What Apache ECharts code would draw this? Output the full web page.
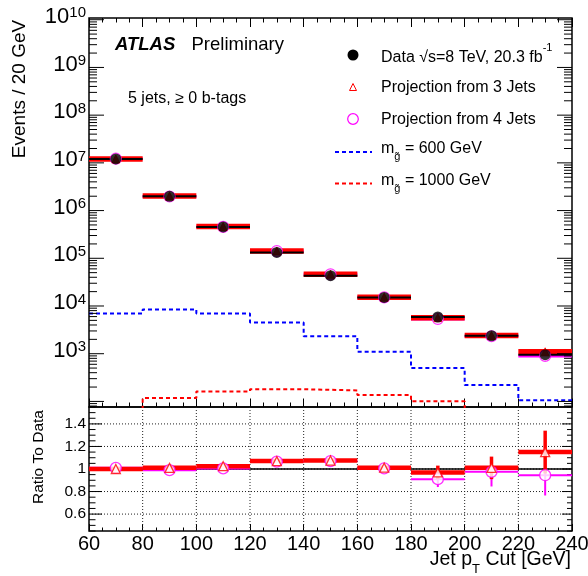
<!DOCTYPE html>
<html><head><meta charset="utf-8">
<script src="https://cdn.jsdelivr.net/npm/echarts@6/dist/echarts.min.js"></script>
<style>html,body{margin:0;padding:0;background:#fff}#c{width:588px;height:576px}</style>
</head><body><div id="c"></div>
<script>
// ---- data ----
const binEdges   = [60, 80, 100, 120, 140, 160, 180, 200, 220, 240];
const binCenters = [70, 90, 110, 130, 150, 170, 190, 210, 230];
const dataEvents = [1.21e7, 1.99e6, 4.53e5, 1.33e5, 4.31e4, 1.51e4, 5880, 2380, 953];
const ratio3Jets = [1.00, 1.01, 1.025, 1.07, 1.075, 1.012, 0.97, 1.01, 1.15];
const ratio3Err  = [0.005, 0.008, 0.01, 0.012, 0.015, 0.02, 0.06, 0.10, 0.19];
const ratio4Jets = [1.01, 0.99, 1.005, 1.065, 1.07, 1.005, 0.91, 0.975, 0.945];
const ratio4Err  = [0.005, 0.008, 0.01, 0.012, 0.015, 0.025, 0.07, 0.13, 0.18];
const gluino600  = [7000, 8490, 7000, 4530, 2330, 1100, 501, 221, 106];
const gluino1000 = [60, 118, 162, 180, 170, 136, 101, 50, 30];
const yLogLabels = [3, 4, 5, 6, 7, 8, 9, 10];
const ratioLabels = [0.6, 0.8, 1, 1.2, 1.4];
const xTickLabels = [60, 80, 100, 120, 140, 160, 180, 200, 220, 240];

const FONT = '"Liberation Sans", Arial, Helvetica, sans-serif';
const yMin = 76.4, yMax = 1.087e10;
const rMin = 0.45, rMax = 1.55;
const RED = '#ff0000', MAG = '#ff00ff', BLUE = '#0000ff';

const proj3 = dataEvents.map((d, i) => d * ratio3Jets[i]);
const proj4 = dataEvents.map((d, i) => d * ratio4Jets[i]);

function seg(x1, y1, x2, y2, w, color, dash) {
  return {type: 'line', silent: true, shape: {x1, y1, x2, y2},
    style: {stroke: color, lineWidth: w, lineDash: dash || null, legacy: false}};
}
function stepData(vals) {
  return binEdges.map((e, i) => [e, vals[Math.min(i, vals.length - 1)]]);
}
function binItems(vals, errs) {
  return binCenters.map((c, i) => [binEdges[i], binEdges[i + 1], c, vals[i], errs ? errs[i] : 0]);
}
function hbarRender(width, color) {
  return function (params, api) {
    const p1 = api.coord([api.value(0), api.value(3)]);
    const p2 = api.coord([api.value(1), api.value(3)]);
    return seg(p1[0], p1[1], p2[0], p2[1], width, color);
  };
}
function errRender(hw, vw, color) {
  return function (params, api) {
    const r = api.value(3), e = api.value(4);
    const p1 = api.coord([api.value(0), r]);
    const p2 = api.coord([api.value(1), r]);
    const c = api.value(2);
    const q1 = api.coord([c, r - e]);
    const q2 = api.coord([c, r + e]);
    return {type: 'group', children: [
      seg(q1[0], q1[1], q2[0], q2[1], vw, color),
      seg(p1[0], p1[1], p2[0], p2[1], hw, color)
    ]};
  };
}

const xCommon = {
  type: 'value', min: 60, max: 240, interval: 20,
  axisLine: {show: false}, splitLine: {show: false}, axisLabel: {show: false},
  axisTick: {show: true, inside: true, length: 8.5, lineStyle: {color: '#000', width: 1}},
  minorTick: {show: true, splitNumber: 4, length: 4.5, lineStyle: {color: '#000', width: 1}},
  minorSplitLine: {show: false}
};

const topFrame = {
  type: 'custom', xAxisIndex: 0, yAxisIndex: 0, data: [[150, 1000]], silent: true, clip: false, z: 5,
  renderItem(params, api) {
    const ch = [];
    const xl = api.coord([60, 1000])[0], xr = api.coord([240, 1000])[0];
    for (let k = 1; k <= 10; k++) for (let m = 1; m <= 9; m++) {
      const v = m * Math.pow(10, k);
      if (v < yMin || v > yMax) continue;
      const y = api.coord([60, v])[1];
      const L = m === 1 ? 15 : 8;
      ch.push(seg(xl, y, xl + L, y, 1, '#000'));
      ch.push(seg(xr, y, xr - L, y, 1, '#000'));
    }
    yLogLabels.forEach(k => {
      const y = api.coord([60, Math.pow(10, k)])[1];
      ch.push({type: 'text', x: xl - 3, y: y + 3, silent: true,
        style: {legacy: false, text: '{b|10}{s|' + k + '}', align: 'right', verticalAlign: 'middle', fill: '#000',
          rich: {
            b: {fontSize: 22, fontFamily: FONT, lineHeight: 34, verticalAlign: 'top', fill: '#000'},
            s: {fontSize: 15, fontFamily: FONT, lineHeight: 15, verticalAlign: 'top', fill: '#000'}
          }}});
    });
    return {type: 'group', children: ch};
  }
};

const ratioFrame = {
  type: 'custom', xAxisIndex: 2, yAxisIndex: 1, data: [[150, 1]], silent: true, clip: false, z: 1,
  renderItem(params, api) {
    const ch = [];
    const xl = api.coord([60, 1])[0], xr = api.coord([240, 1])[0];
    const yt = api.coord([60, rMax])[1], yb = api.coord([60, rMin])[1];
    for (let x = 80; x <= 220; x += 20) {
      const px = api.coord([x, 1])[0];
      ch.push(seg(px, yt, px, yb, 1, '#222', [1, 2]));
    }
    ratioLabels.forEach(v => {
      const py = api.coord([60, v])[1];
      ch.push(seg(xl, py, xr, py, 1, '#222', [1, 2]));
    });
    for (let i = 9; i <= 31; i++) {
      const v = i * 0.05;
      const y = api.coord([60, v])[1];
      const major = i % 4 === 0;
      ch.push(seg(xl, y, xl + (major ? 13 : 6.5), y, 1, '#000'));
      ch.push(seg(xr, y, xr - (major ? 10 : 5), y, 1, '#000'));
    }
    ratioLabels.forEach(v => {
      const y = api.coord([60, v])[1];
      ch.push({type: 'text', x: xl - 3, y: y, silent: true,
        style: {legacy: false, text: String(v), align: 'right', verticalAlign: 'middle', fill: '#000',
          fontSize: 15.5, fontFamily: FONT}});
    });
    return {type: 'group', children: ch};
  }
};

const subRich = (bs, ss) => ({
  b: {fontSize: bs, fontFamily: FONT, fill: '#000', lineHeight: 22, verticalAlign: 'top'},
  s: {fontSize: ss, fontFamily: FONT, fill: '#000', lineHeight: 10, verticalAlign: 'bottom'}
});

const option = {
  animation: false,
  backgroundColor: '#fff',
  grid: [
    {left: 89, top: 18, width: 483, height: 389, show: true, borderColor: '#000', borderWidth: 1.5, backgroundColor: 'transparent', outerBoundsMode: 'none'},
    {left: 89, top: 407, width: 483, height: 124, show: true, borderColor: '#000', borderWidth: 1.5, backgroundColor: 'transparent', outerBoundsMode: 'none'}
  ],
  xAxis: [
    Object.assign({}, xCommon, {gridIndex: 0, position: 'bottom'}),
    Object.assign({}, xCommon, {gridIndex: 0, position: 'top', axisTick: Object.assign({}, xCommon.axisTick, {length: 9})}),
    Object.assign({}, xCommon, {gridIndex: 1, position: 'bottom',
      axisTick: Object.assign({}, xCommon.axisTick, {length: 7}),
      minorTick: Object.assign({}, xCommon.minorTick, {length: 3.5}),
      axisLabel: {show: true, fontSize: 20, fontFamily: FONT, color: '#000', margin: 3,
        formatter: v => (xTickLabels.indexOf(v) >= 0 ? String(v) : '')}})
  ],
  yAxis: [
    {type: 'log', logBase: 10, gridIndex: 0, min: yMin, max: yMax,
      axisLine: {show: false}, axisTick: {show: false}, axisLabel: {show: false}, splitLine: {show: false}},
    {type: 'value', gridIndex: 1, min: rMin, max: rMax,
      axisLine: {show: false}, axisTick: {show: false}, axisLabel: {show: false}, splitLine: {show: false}}
  ],
  graphic: [
    {type: 'text', x: 115, y: 44.5, silent: true, style: {text: 'ATLAS', fill: '#000', fontSize: 18.5, fontWeight: 'bold', fontStyle: 'italic', fontFamily: FONT, align: 'left', verticalAlign: 'middle'}},
    {type: 'text', x: 191.5, y: 44.5, silent: true, style: {text: 'Preliminary', fill: '#000', fontSize: 18.5, fontFamily: FONT, align: 'left', verticalAlign: 'middle'}},
    {type: 'text', x: 128, y: 99, silent: true, style: {text: '5 jets, \u2265 0 b-tags', fill: '#000', fontSize: 16, fontFamily: FONT, align: 'left', verticalAlign: 'middle'}},
    // legend
    {type: 'circle', silent: true, shape: {cx: 353, cy: 55, r: 5.5}, style: {fill: '#000'}},
    {type: 'polygon', silent: true, shape: {points: [[349.5, 90.5], [356.5, 90.5], [353, 83.5]]}, style: {fill: 'none', stroke: RED, lineWidth: 1}},
    {type: 'circle', silent: true, shape: {cx: 353, cy: 119, r: 5.3}, style: {fill: 'none', stroke: MAG, lineWidth: 1.2}},
    {type: 'line', silent: true, shape: {x1: 335, y1: 152, x2: 372, y2: 152}, style: {stroke: BLUE, lineWidth: 2, lineDash: [4, 3]}},
    {type: 'line', silent: true, shape: {x1: 335, y1: 183.5, x2: 372, y2: 183.5}, style: {stroke: RED, lineWidth: 2, lineDash: [4, 3]}},
    {type: 'text', x: 381, y: 56 - 14, silent: true, style: {text: '{b|Data \u221As=8 TeV, 20.3 fb}{s|-1}', align: 'left', verticalAlign: 'top',
      rich: {b: {fontSize: 16, fontFamily: FONT, fill: '#000', lineHeight: 24, verticalAlign: 'bottom'},
             s: {fontSize: 11, fontFamily: FONT, fill: '#000', lineHeight: 12, verticalAlign: 'top'}}}},
    {type: 'text', x: 381, y: 87.3, silent: true, style: {text: 'Projection from 3 Jets', fill: '#000', fontSize: 16, fontFamily: FONT, align: 'left', verticalAlign: 'middle'}},
    {type: 'text', x: 381, y: 119.3, silent: true, style: {text: 'Projection from 4 Jets', fill: '#000', fontSize: 16, fontFamily: FONT, align: 'left', verticalAlign: 'middle'}},
    {type: 'text', x: 381, y: 150.7 - 10, silent: true, style: {text: '{b|m}{s|g\u0303}{b| = 600 GeV}', align: 'left', verticalAlign: 'top',
      rich: subRich(16, 11)}},
    {type: 'text', x: 381, y: 182.7 - 10, silent: true, style: {text: '{b|m}{s|g\u0303}{b| = 1000 GeV}', align: 'left', verticalAlign: 'top',
      rich: subRich(16, 11)}},
    // axis titles
    {type: 'text', x: 20, y: 89, rotation: Math.PI / 2, silent: true, style: {text: 'Events / 20 GeV', fill: '#000', fontSize: 19, fontFamily: FONT, align: 'center', verticalAlign: 'middle'}},
    {type: 'text', x: 39, y: 457, rotation: Math.PI / 2, silent: true, style: {text: 'Ratio To Data', fill: '#000', fontSize: 15.5, fontFamily: FONT, align: 'center', verticalAlign: 'middle'}},
    {type: 'text', x: 571, y: 550, silent: true, style: {text: '{b|Jet p}{s|T}{b| Cut [GeV]}', align: 'right', verticalAlign: 'top',
      rich: {b: {fontSize: 19.5, fontFamily: FONT, fill: '#000', lineHeight: 26, verticalAlign: 'top'},
             s: {fontSize: 13, fontFamily: FONT, fill: '#000', lineHeight: 10, verticalAlign: 'bottom'}}}}
  ],
  series: [
    topFrame,
    ratioFrame,
    {type: 'line', name: 'm600', xAxisIndex: 0, yAxisIndex: 0, step: 'end', data: stepData(gluino600), symbol: 'none', clip: true,
      lineStyle: {color: BLUE, width: 2, type: [4, 3]}, z: 2},
    {type: 'line', name: 'm1000', xAxisIndex: 0, yAxisIndex: 0, step: 'end', data: stepData(gluino1000), symbol: 'none', clip: true,
      lineStyle: {color: RED, width: 2, type: [4, 3]}, z: 2},
    {type: 'custom', xAxisIndex: 0, yAxisIndex: 0, data: binItems(proj4), encode: {x: [0, 1], y: 3}, renderItem: hbarRender(3, MAG), z: 3},
    {type: 'custom', xAxisIndex: 0, yAxisIndex: 0, data: binItems(proj3), encode: {x: [0, 1], y: 3}, renderItem: hbarRender(5.5, RED), z: 3},
    {type: 'custom', xAxisIndex: 0, yAxisIndex: 0, data: binItems(dataEvents), encode: {x: [0, 1], y: 3}, renderItem: hbarRender(2, '#000'), z: 3},
    {type: 'scatter', xAxisIndex: 0, yAxisIndex: 0, data: binCenters.map((c, i) => [c, proj4[i]]), symbol: 'circle', symbolSize: 11,
      itemStyle: {color: '#fff', borderColor: MAG, borderWidth: 1.2}, z: 4},
    {type: 'scatter', xAxisIndex: 0, yAxisIndex: 0, data: binCenters.map((c, i) => [c, proj3[i]]), symbol: 'triangle', symbolSize: 8,
      itemStyle: {color: RED, borderColor: RED, borderWidth: 1}, z: 4},
    {type: 'scatter', xAxisIndex: 0, yAxisIndex: 0, data: binCenters.map((c, i) => [c, dataEvents[i]]), symbol: 'circle', symbolSize: 11,
      itemStyle: {color: '#000'}, z: 4},
    {type: 'line', xAxisIndex: 2, yAxisIndex: 1, data: [[60, 1], [240, 1]], symbol: 'none', lineStyle: {color: '#000', width: 1.5}, z: 2},
    {type: 'custom', xAxisIndex: 2, yAxisIndex: 1, data: binItems(ratio4Jets, ratio4Err), encode: {x: [0, 1], y: 3}, renderItem: errRender(2, 2, MAG), z: 3},
    {type: 'custom', xAxisIndex: 2, yAxisIndex: 1, data: binItems(ratio3Jets, ratio3Err), encode: {x: [0, 1], y: 3}, renderItem: errRender(4.5, 3.5, RED), z: 3},
    {type: 'scatter', xAxisIndex: 2, yAxisIndex: 1, data: binCenters.map((c, i) => [c, ratio4Jets[i]]), symbol: 'circle', symbolSize: 11,
      itemStyle: {color: '#fff', borderColor: MAG, borderWidth: 1.3}, z: 4},
    {type: 'scatter', xAxisIndex: 2, yAxisIndex: 1, data: binCenters.map((c, i) => [c, ratio3Jets[i]]), symbol: 'triangle', symbolSize: 9,
      itemStyle: {color: '#fff', borderColor: RED, borderWidth: 1.3}, z: 4}
  ]
};
const chart = echarts.init(document.getElementById('c'));
chart.setOption(option);
</script>
</body></html>
